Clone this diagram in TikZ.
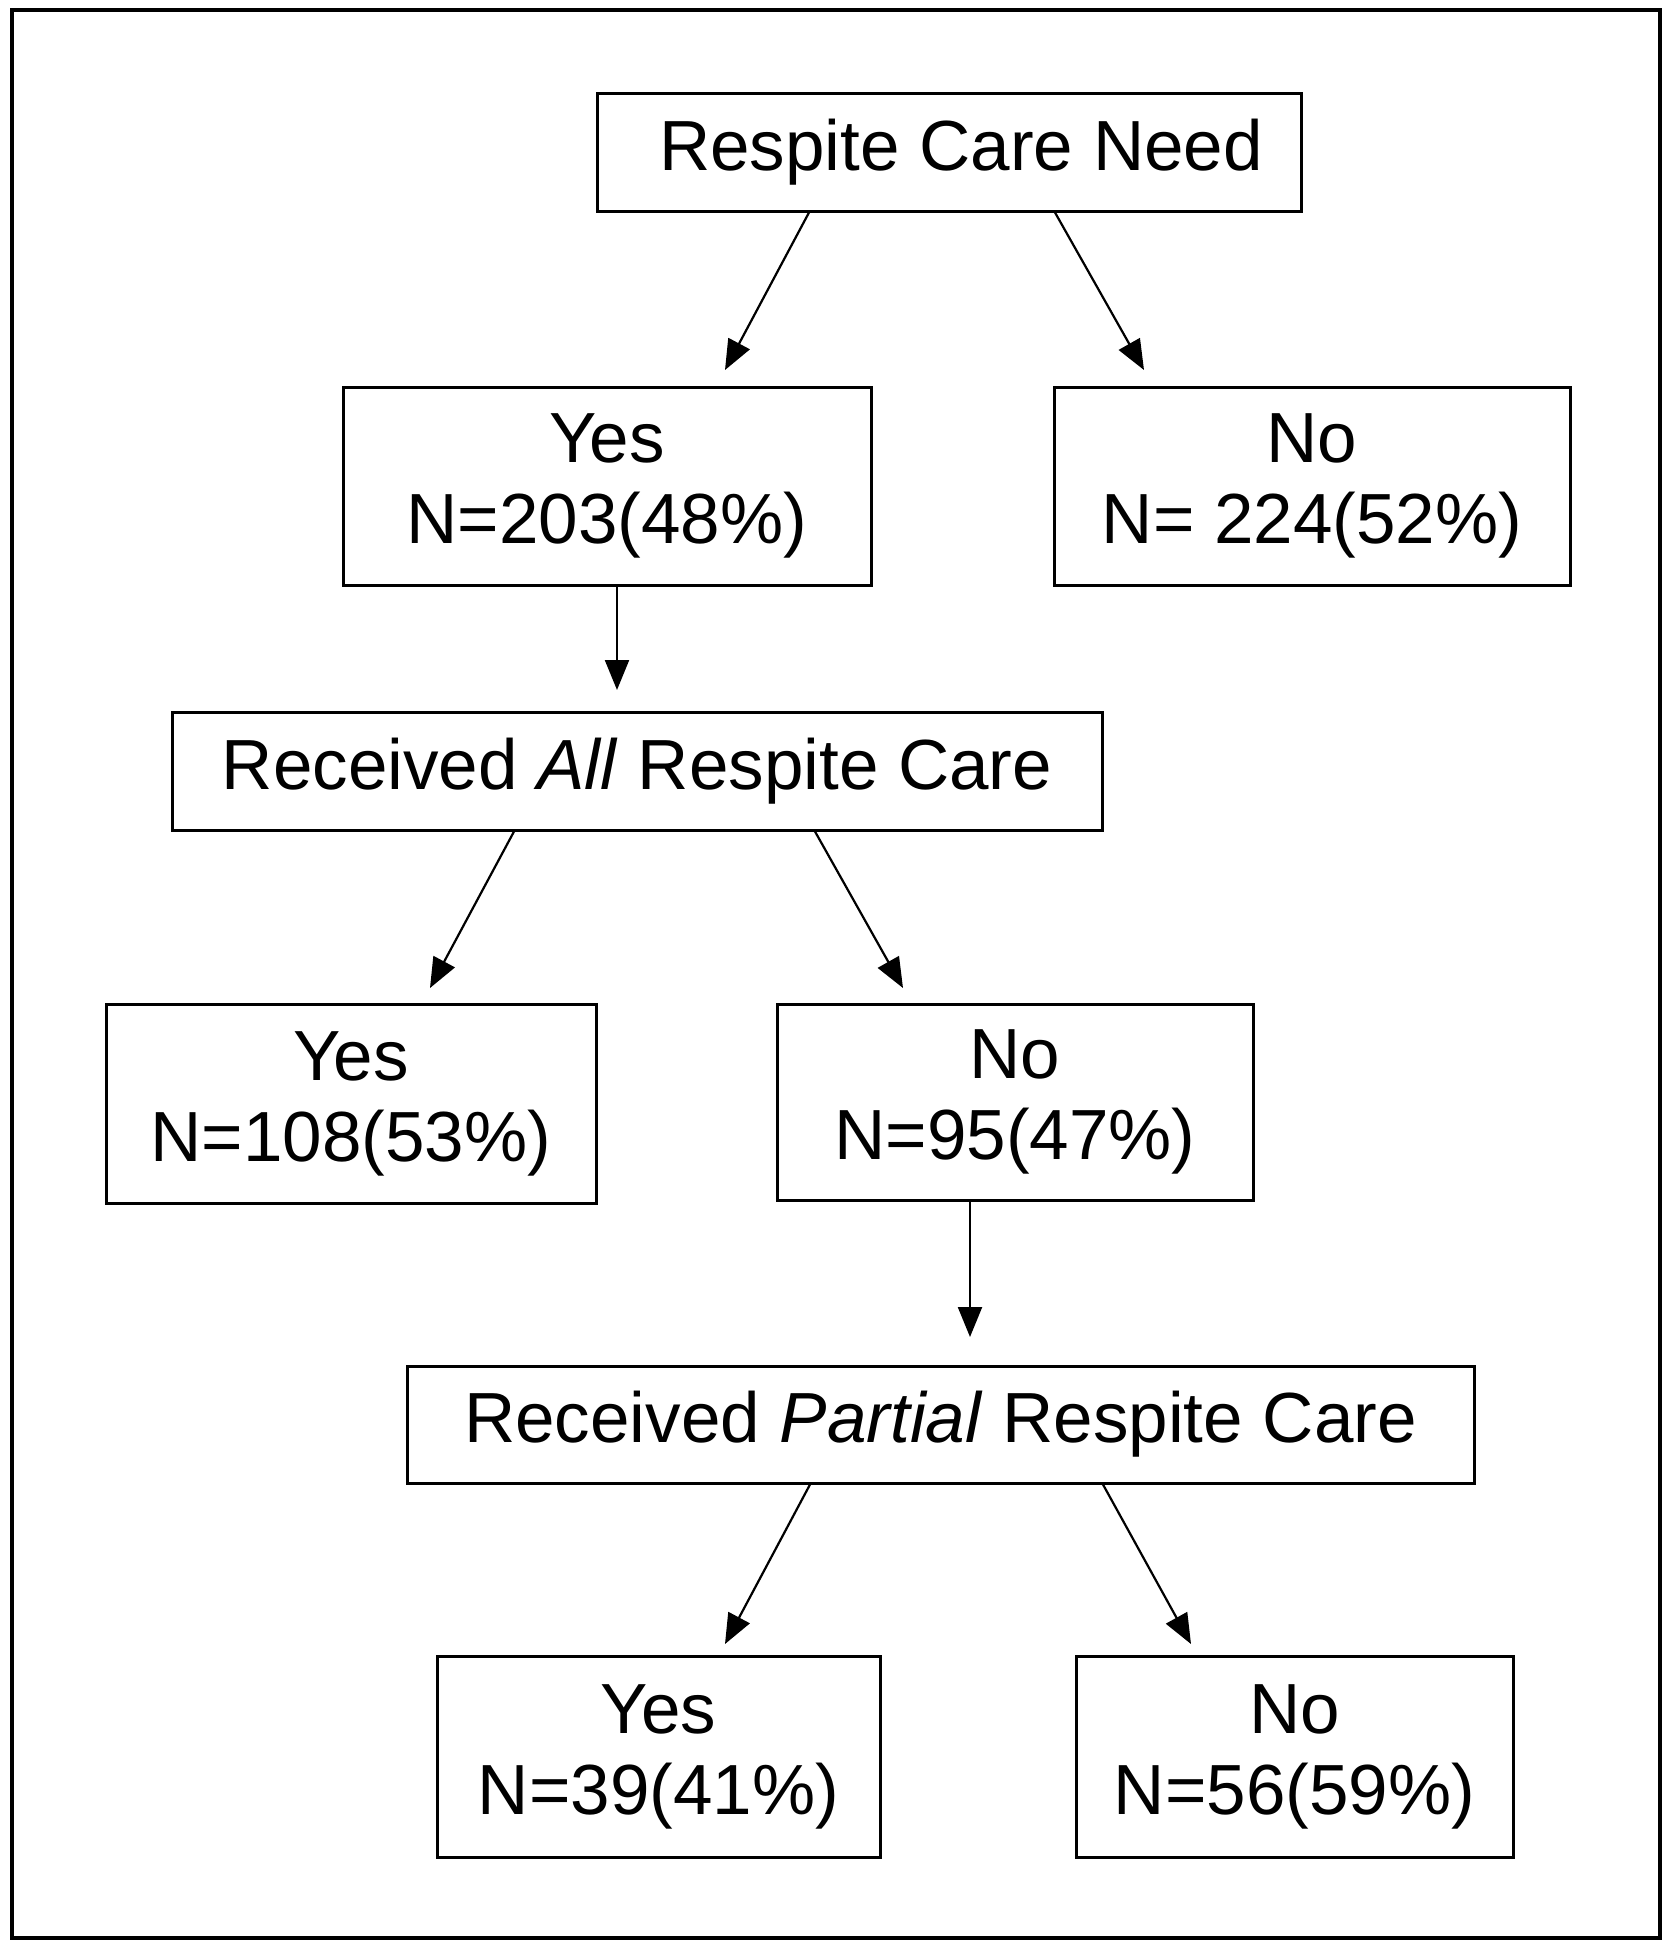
\documentclass[tikz,border=0pt]{standalone}
\usepackage{fontspec}
\setmainfont{Liberation Sans}
\usetikzlibrary{arrows.meta}
\begin{document}
\begin{tikzpicture}[x=0.5pt,y=-0.5pt,
  box/.style={draw,line width=1.5pt,inner sep=0pt,align=center,
    font=\fontsize{35.5pt}{40.5pt}\selectfont},
  arr/.style={line width=1.1pt,-{Triangle[length=15pt,width=12pt]}}]
\useasboundingbox (0,0) rectangle (1672,1950);
\draw[line width=2pt] (12,10) rectangle (1660,1938);
\node[box,minimum width=352pt,minimum height=59pt] (top) at (949,152) {\hspace*{12pt}Respite Care Need};
\node[box,minimum width=264pt,minimum height=99pt] (yes1) at (607,486) {Yes\\N=203(48\%)};
\node[box,minimum width=258pt,minimum height=99pt] (no1) at (1312,486) {No\\N= 224(52\%)};
\node[box,minimum width=465pt,minimum height=59pt] (all) at (637,771) {Received \textit{All} Respite Care};
\node[box,minimum width=245pt,minimum height=99.5pt] (yes2) at (351,1103.5) {Yes\\N=108(53\%)};
\node[box,minimum width=238pt,minimum height=98pt] (no2) at (1015,1102) {No\\N=95(47\%)};
\node[box,minimum width=533.5pt,minimum height=58.5pt] (part) at (940.5,1424.5) {Received \textit{Partial} Respite Care};
\node[box,minimum width=221.5pt,minimum height=100.5pt] (yes3) at (658.5,1756.5) {Yes\\N=39(41\%)};
\node[box,minimum width=218.5pt,minimum height=100.5pt] (no3) at (1294.5,1756.5) {No\\N=56(59\%)};
\coordinate (e1) at (725,370);
\coordinate (e2) at (1144,370);
\coordinate (e3) at (617,690);
\coordinate (e4) at (430,988);
\coordinate (e5) at (903,988);
\coordinate (e6) at (970,1337);
\coordinate (e7) at (725,1644);
\coordinate (e8) at (1191,1644);
\draw[arr] (top.south -| 809,0) -- (e1);
\draw[arr] (top.south -| 1055,0) -- (e2);
\draw[arr] (yes1.south -| e3) -- (e3);
\draw[arr] (all.south -| 514,0) -- (e4);
\draw[arr] (all.south -| 815,0) -- (e5);
\draw[arr] (no2.south -| e6) -- (e6);
\draw[arr] (part.south -| 810,0) -- (e7);
\draw[arr] (part.south -| 1103,0) -- (e8);
\end{tikzpicture}
\end{document}
